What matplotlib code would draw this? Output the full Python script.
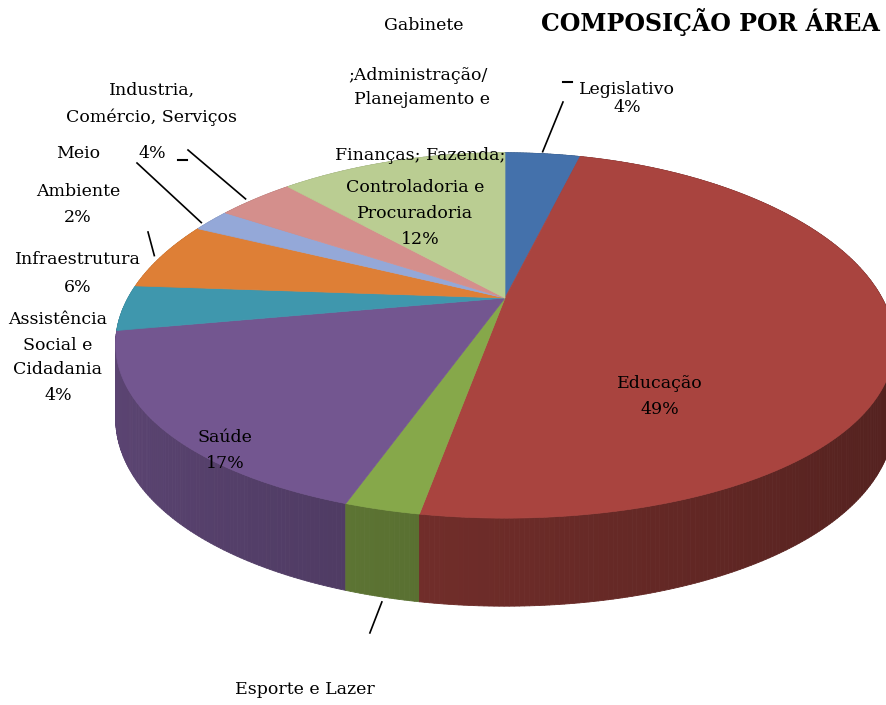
import numpy as np
import matplotlib.pyplot as plt
from matplotlib.collections import PolyCollection
from matplotlib.colors import to_rgb

# dados do gráfico
areas = ["Legislativo", "Educação", "Esporte e Lazer", "Saúde",
         "Assistência Social e Cidadania", "Infraestrutura", "Meio Ambiente",
         "Industria, Comércio, Serviços",
         "Gabinete ;Administração/ Planejamento e Finanças; Fazenda; Controladoria e Procuradoria"]
shares = [4, 49, 2.5, 17, 4, 6, 2, 4, 12]
colors = ["#4471ab", "#a9443f", "#86a84a", "#735690", "#3f97ad",
          "#de7f36", "#94a8d8", "#d48f8c", "#bacd92"]
title = "COMPOSIÇÃO POR ÁREA"

# geometria da pizza 3D (em pixels)
W, H = 886, 705
cx, cy = 505, 298
rx, ry = 377, 175
kx, ky = 0.25, 0.205
depth = 70


def project(theta, drop=0.0):
    s, c = np.sin(theta), np.cos(theta)
    sx = 1 / (1 + kx * s)
    sy = 1 / (1 + ky * s)
    return cx + rx * c * sx, cy - ry * s * sy + drop * sy


total = float(sum(shares))
cum = np.concatenate([[0], np.cumsum(shares)]) / total
starts = np.deg2rad(90 - 360 * cum[:-1])
ends = np.deg2rad(90 - 360 * cum[1:])
mids = (starts + ends) / 2

fig = plt.figure(figsize=(W / 100, H / 100), dpi=100)
ax = fig.add_axes([0, 0, 1, 1])
ax.set_xlim(0, W)
ax.set_ylim(H, 0)
ax.axis("off")

# paredes laterais, em quadriláteros pequenos, de trás para frente
quads, qcols, qdepth = [], [], []
for a0, a1, col in zip(starts, ends, colors):
    n = max(int(abs(a1 - a0) / 0.01), 2)
    th = np.linspace(a0, a1, n + 1)
    base = np.array(to_rgb(col))
    for t0, t1 in zip(th[:-1], th[1:]):
        x0, y0 = project(t0)
        x1, y1 = project(t1)
        _, b0 = project(t0, depth)
        _, b1 = project(t1, depth)
        quads.append([(x0, y0), (x1, y1), (x1, b1), (x0, b0)])
        tm = (t0 + t1) / 2
        f = 0.64 - 0.16 * np.cos(tm)
        qcols.append(tuple(np.clip(base * f, 0, 1)))
        qdepth.append(np.sin(tm))
order = np.argsort(qdepth)[::-1]
ax.add_collection(PolyCollection([quads[i] for i in order],
                                 facecolors=[qcols[i] for i in order],
                                 edgecolors=[qcols[i] for i in order],
                                 linewidths=0.6))

# face superior
for a0, a1, col in zip(starts, ends, colors):
    th = np.linspace(a0, a1, 200)
    xs, ys = project(th)
    pts = [(cx, cy)] + list(zip(xs, ys))
    ax.add_patch(plt.Polygon(pts, closed=True, facecolor=col,
                             edgecolor=col, linewidth=0.5))

font = dict(family="DejaVu Serif", fontsize=12.5, color="black",
            ha="center", va="center")
pct = [f"{v:g}%" for v in shares]

ax.text(710, 22, title, family="DejaVu Serif", fontsize=17,
        fontweight="bold", ha="center", va="center")

# Legislativo
ax.text(627, 90, areas[0], **font)
ax.text(627, 107, pct[0], **font)
lx, ly = project(mids[0])
ax.plot([lx, 563], [ly - 2, 102], color="black", lw=1.2)
ax.plot([563, 572], [82, 82], color="black", lw=1.5)

# Educação
ax.text(660, 384, areas[1], **font)
ax.text(660, 410, pct[1], **font)

# Esporte e Lazer (sem percentual no original)
ax.text(305, 690, areas[2], **font)
ex, ey = project(mids[2], depth)
ax.plot([ex, ex - 12], [ey + 5, ey + 36], color="black", lw=1.2)

# Saúde
ax.text(225, 438, areas[3], **font)
ax.text(225, 464, pct[3], **font)

# Assistência Social e Cidadania
for i, s in enumerate(["Assistência", "Social e", "Cidadania", pct[4]]):
    ax.text(58, 320 + 25 * i, s, **font)

# Infraestrutura
ax.text(78, 260, areas[5], **font)
ax.text(78, 287, pct[5], **font)
ix, iy = project(mids[5])
ax.plot([148, ix - 8], [232, iy], color="black", lw=1.2)

# Meio Ambiente
ax.text(78, 153, "Meio", **font)
ax.text(78, 192, "Ambiente", **font)
ax.text(78, 217, pct[6], **font)
mx, my = project(mids[6])
ax.plot([137, mx - 10], [163, my + 2], color="black", lw=1.2)

# Industria, Comércio, Serviços
ax.text(152, 90, "Industria,", **font)
ax.text(152, 117, "Comércio, Serviços", **font)
ax.text(152, 153, pct[7], **font)
nx, ny = project(mids[7])
ax.plot([188, nx - 10], [150, ny], color="black", lw=1.2)
ax.plot([178, 187], [160, 160], color="black", lw=1.5)

# Gabinete / Administração ...
gab_lines = ["Gabinete", ";Administração/", "Planejamento e",
             "Finanças; Fazenda;", "Controladoria e", "Procuradoria", pct[8]]
gab_y = [25, 75, 99, 155, 187, 213, 240]
gab_x = [424, 418, 422, 420, 415, 415, 420]
for s, x, y in zip(gab_lines, gab_x, gab_y):
    ax.text(x, y, s, **font)

fig.savefig("out.png", dpi=100, facecolor="white")
